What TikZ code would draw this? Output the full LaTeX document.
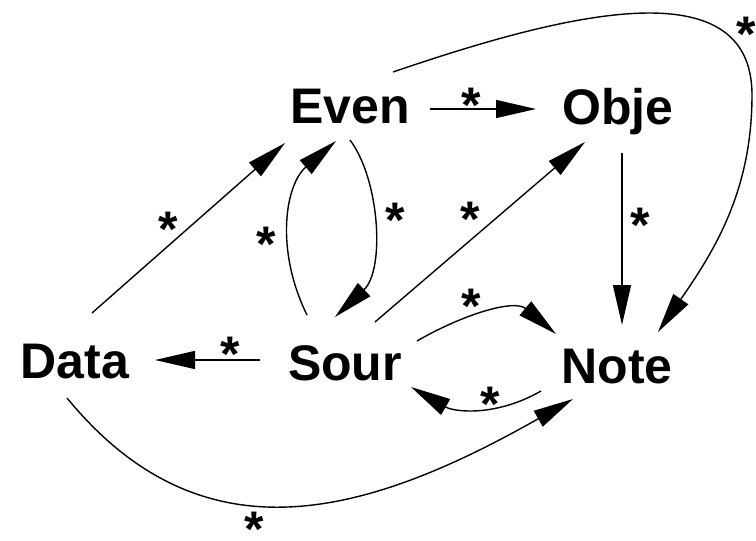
\documentclass[tikz,border=0pt]{standalone}
\usepackage{fontspec}
\setmainfont{Liberation Sans}
\usetikzlibrary{arrows.meta}
\begin{document}
\begin{tikzpicture}[x=1pt,y=1pt,
  lbl/.style={font=\fontsize{50}{60}\selectfont\bfseries, inner sep=0pt, anchor=base},
  st/.style={font=\fontsize{50}{60}\selectfont\bfseries, inner sep=0pt, anchor=base, yshift=-24pt},
  conn/.style={line width=1.4pt, -{Triangle[length=40pt,width=18pt]}}]
\useasboundingbox (0,0) rectangle (756,-541);
% nodes
\node[lbl] (Even) at (350,-123) {Even};
\node[lbl] (Obje) at (618,-124) {Obje};
\node[lbl] (Data) at (75,-378) {Data};
\node[lbl] (Sour) at (345,-380) {Sour};
\node[lbl] (Note) at (617,-383) {Note};
% connectors
\draw[conn] ([shift={(80,14)}]Even.base) -- ([shift={(-82,15)}]Obje.base);
\draw[conn] ([shift={(17,65)}]Data.base) -- ([shift={(-65,-20)}]Even.base);
\draw[conn] ([shift={(-38,65)}]Sour.base) .. controls (275,-250) and (285,-185) .. ([shift={(-14,-18)}]Even.base);
\draw[conn] ([shift={(0,-17)}]Even.base) .. controls (380,-180) and (385,-270) .. ([shift={(-10,63)}]Sour.base);
\draw[conn] ([shift={(30,58)}]Sour.base) -- ([shift={(-33,-18)}]Obje.base);
\draw[conn] ([shift={(4,-29)}]Obje.base) -- ([shift={(5,58)}]Note.base);
\draw[conn] ([shift={(43,51)}]Even.base) .. controls (560,-15) and (752,35) .. (752,-95)
   .. controls (752,-190) and (715,-250) .. ([shift={(41,51)}]Note.base);
\draw[conn] ([shift={(72,39)}]Sour.base) to[out=30,in=140] ([shift={(-61,49)}]Note.base);
\draw[conn] ([shift={(-76,-8)}]Note.base) to[out=-150,in=-30] ([shift={(66,-7)}]Sour.base);
\draw[conn] ([shift={(-8,-20)}]Data.base) .. controls (200,-560) and (360,-520) .. ([shift={(-44,-16)}]Note.base);
\draw[conn] ([shift={(-85,20)}]Sour.base) -- ([shift={(80,18)}]Data.base);
% labels
\node[st] (s1) at (471,-98) {*};
\node[st] (s2) at (746,-27) {*};
\node[st] (s3) at (395,-213) {*};
\node[st] (s4) at (470,-212) {*};
\node[st] (s5) at (640,-218) {*};
\node[st] (s6) at (471,-299) {*};
\node[st] (s7) at (490,-397) {*};
\node[st] (s8) at (254,-522) {*};
\node[st] (s9) at (168,-222) {*};
\node[st] (s10) at (266,-237) {*};
\node[st] (s11) at (230,-347) {*};
\end{tikzpicture}
\end{document}
